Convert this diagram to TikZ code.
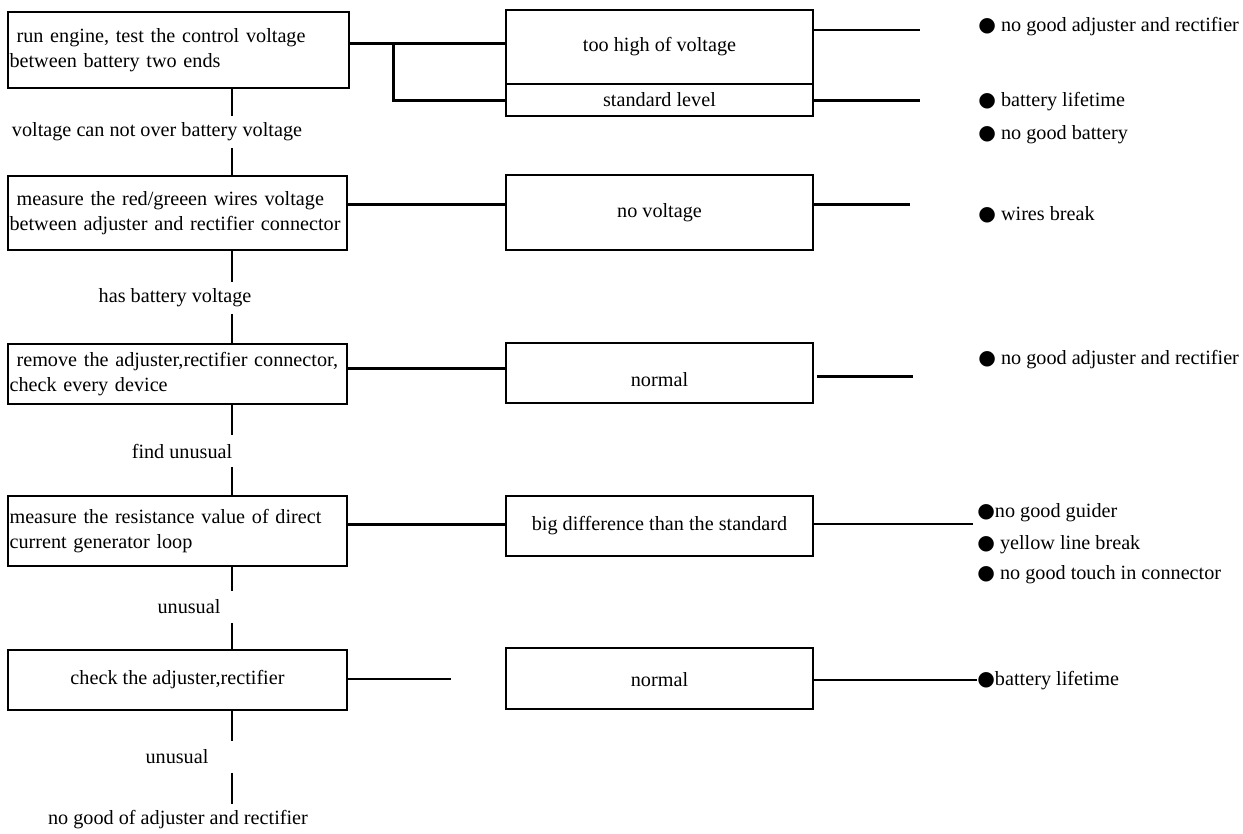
\documentclass[tikz,border=0pt]{standalone}
\usepackage{fontspec}
\setmainfont{Liberation Serif}
\newfontfamily\symfont{DejaVu Sans}
\newcommand{\bul}{{\symfont ●}}
\begin{document}
\begin{tikzpicture}[x=0.02cm, y=-0.02cm,
  font=\fontsize{11.5}{14.2}\selectfont,
  box/.style={draw, line width=1.1pt, inner sep=0pt},
  lbox/.style={box, inner xsep=0.03cm, align=left},
  mbox/.style={box, minimum width=6.14cm, line width=1.2pt},
  thickln/.style={line width=1.7pt},
  thinln/.style={line width=0.9pt},
  spine/.style={line width=0.9pt},
  lab/.style={inner sep=0pt, minimum height=0.62cm},
  item/.style={anchor=west, inner sep=0pt}]
\useasboundingbox (0,0) rectangle (1243,833);

% left column boxes
\node[lbox, text width=6.76cm, minimum height=1.52cm] (b1) at (178.5,50)
  {\hspace*{4pt}run engine, test the control voltage\\between battery two ends};
\node[lbox, text width=6.72cm, minimum height=1.48cm] (b2) at (177.5,213)
  {\hspace*{4pt}measure the red/greeen wires voltage\\between adjuster and rectifier connector};
\node[lbox, text width=6.72cm, minimum height=1.2cm] (b3) at (177.5,374)
  {\hspace*{4pt}remove the adjuster,rectifier connector,\\check every device};
\node[lbox, text width=6.72cm, minimum height=1.4cm] (b4) at (177.5,531)
  {measure the resistance value of direct\\current generator loop};
\node[box, minimum width=6.78cm, minimum height=1.2cm] (b5) at (177.5,680)
  {check the adjuster,rectifier};

% middle column boxes
\node[mbox, minimum height=1.48cm, line width=1.3pt] (hi) at (659.5,47) {too high of voltage};
\node[mbox, minimum height=0.64cm, line width=1.3pt] (std) at (659.5,100) {standard level};
\node[mbox, minimum height=1.5cm] (nv) at (659.5,212.5) {no voltage};
\node[mbox, minimum height=1.2cm, text height=15pt, text depth=0pt] (n3) at (659.5,373) {normal};
\node[mbox, minimum height=1.2cm] (bd) at (659.5,526) {big difference than the standard};
\node[mbox, minimum height=1.22cm, text height=9pt, text depth=0pt] (n5) at (659.5,678.5) {normal};

% spine labels
\node[lab] (l1) at (157,132) {voltage can not over battery voltage};
\node[lab] (l2) at (175,298) {has battery voltage};
\node[lab] (l3) at (182,451) {find unusual};
\node[lab] (l4) at (189,607) {unusual};
\node[lab] (l5) at (177,757) {unusual};
\node[lab] (l6) at (178,820) {no good of adjuster and rectifier};

% right items
\node[item] (r1) at (978,27) {\bul\ no good adjuster and rectifier};
\node[item] (r2) at (978,102) {\bul\ battery lifetime};
\node[item] (r3) at (978,135) {\bul\ no good battery};
\node[item] (r4) at (978,215) {\bul\ wires break};
\node[item] (r5) at (978,360) {\bul\ no good adjuster and rectifier};
\node[item] (r6) at (977,513) {\bul no good guider};
\node[item] (r7) at (977,545) {\bul\ yellow line break};
\node[item] (r8) at (977,575) {\bul\ no good touch in connector};
\node[item] (r9) at (977,681) {\bul battery lifetime};

% spine
\coordinate (sp) at (232,0);
\draw[spine] (b1.south -| sp) -- (l1.north -| sp);
\draw[spine] (l1.south -| sp) -- (b2.north -| sp);
\draw[spine] (b2.south -| sp) -- (l2.north -| sp);
\draw[spine] (l2.south -| sp) -- (b3.north -| sp);
\draw[spine] (b3.south -| sp) -- (l3.north -| sp);
\draw[spine] (l3.south -| sp) -- (b4.north -| sp);
\draw[spine] (b4.south -| sp) -- (l4.north -| sp);
\draw[spine] (l4.south -| sp) -- (b5.north -| sp);
\draw[spine] (b5.south -| sp) -- (l5.north -| sp);
\draw[spine] (l5.south -| sp) -- (l6.north -| sp);

% row 1 connectors
\coordinate (j1) at (393,43);
\draw[thickln] (b1.east |- j1) -- (hi.west |- j1);
\draw[thickln] (j1) |- (std.west);
\coordinate (e1) at (920,30);
\coordinate (e2) at (920,100);
\draw[thinln] (hi.east |- e1) -- (e1);
\draw[thickln] (std.east |- e2) -- (e2);

% row 2
\coordinate (j2) at (0,204);
\draw[thickln] (b2.east |- j2) -- (nv.west |- j2);
\coordinate (f2) at (910,204);
\draw[thickln] (nv.east |- f2) -- (f2);

% row 3
\coordinate (j3) at (0,368);
\draw[thickln] (b3.east |- j3) -- (n3.west |- j3);
\coordinate (f3a) at (817,376);
\coordinate (f3b) at (913,376);
\draw[thickln] (f3a) -- (f3b);

% row 4
\coordinate (j4) at (0,524);
\draw[thickln] (b4.east |- j4) -- (bd.west |- j4);
\coordinate (g4) at (973,524);
\draw[thinln] (bd.east |- g4) -- (g4);

% row 5
\coordinate (f5) at (451,679);
\draw[thinln] (b5.east |- f5) -- (f5);
\draw[thinln] (n5.east |- 0,680) -- (r9.west |- 0,680);
\end{tikzpicture}
\end{document}
